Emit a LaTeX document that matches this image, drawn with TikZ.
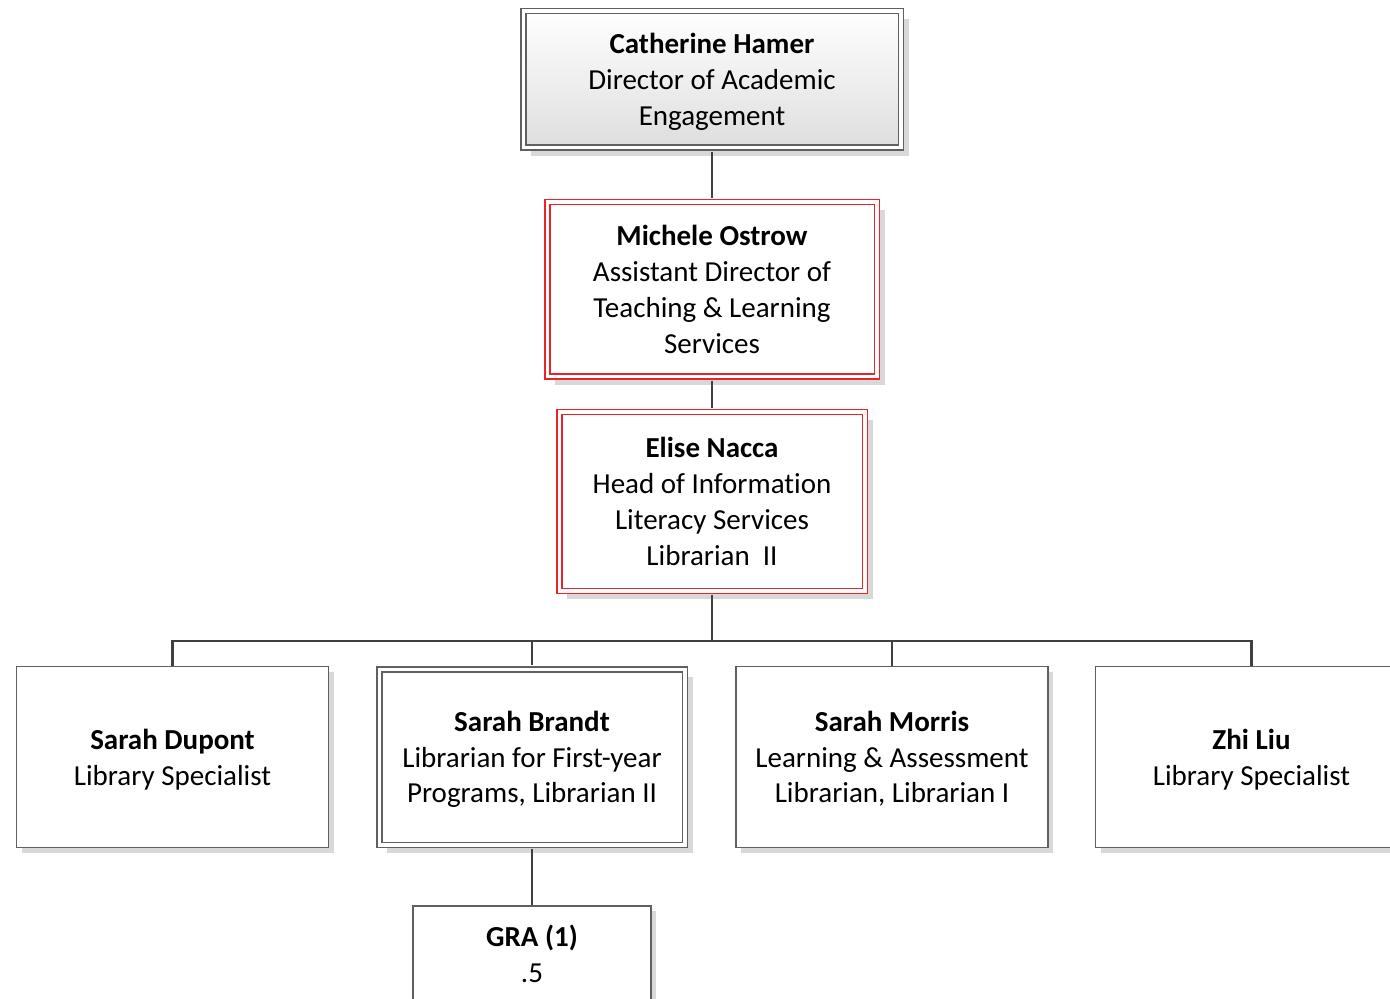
\documentclass[tikz,border=0pt]{standalone}
\usepackage{fontspec}
\setmainfont{Carlito}[Ligatures=NoCommon]
\usetikzlibrary{positioning, shadows}
\definecolor{boxgray}{RGB}{96,96,96}
\definecolor{boxred}{RGB}{232,36,40}
\definecolor{linkgray}{RGB}{64,64,64}
\definecolor{shadowgray}{RGB}{216,216,216}
\tikzset {
    person/.style={rectangle, draw=boxgray, line width=0.75pt, fill=white,
        align=center, inner sep=0pt, text depth=0pt,
        font=\fontsize{14.5}{17.9}\selectfont,
        drop shadow={shadow xshift=#1, shadow yshift=-#1, fill=shadowgray, opacity=1}},
    person/.default=2.5pt,
    staff/.style={person, minimum width=156pt, minimum height=90.5pt},
    twoline/.style={person=4pt, double=white, double distance=1.75pt},
    head/.style={twoline, draw=boxred}
}

\begin{document}
\begin{tikzpicture}[
  x=0.5pt, y=-0.5pt,
  link/.style={draw=linkgray, line width=1.3pt},
  off/.style={shorten <=1.6pt},
  on/.style={shorten >=1.6pt}
  ]
\useasboundingbox (0,0) rectangle (1390,999);

\node[twoline, top color=white, bottom color=black!13,
      minimum width=188.75pt, minimum height=68.25pt] (cat) at (712,79.5)
  {\textbf{Catherine Hamer}\\Director of Academic\\Engagement};
\node[head, minimum width=164.75pt, minimum height=87.25pt] (mic) at (712,289.5)
  {\textbf{Michele Ostrow}\\Assistant Director of\\Teaching \& Learning\\Services};
\node[head, minimum width=152.75pt, minimum height=89.25pt] (eli) at (712,501.5)
  {\textbf{Elise Nacca}\\Head of Information\\Literacy Services\\Librarian\ \ II};

\node[staff] (dup) at (172.5,757) {\textbf{Sarah Dupont}\\Library Specialist};
\node[twoline, minimum width=152.75pt, minimum height=87.75pt] (bra) at (532,757)
  {\textbf{Sarah Brandt}\\Librarian for First-year\\Programs, Librarian II};
\node[staff] (mor) at (892,757)
  {\textbf{Sarah Morris}\\Learning \& Assessment\\Librarian, Librarian I};
\node[staff] (zhi) at (1251.5,757) {\textbf{Zhi Liu}\\Library Specialist};

\node[person, minimum width=119pt, minimum height=47.5pt] (gra) at (532,953.5)
  {\textbf{GRA (1)}\\.5};

\coordinate (bus) at (712,641);

\draw[link, off, on] (cat) -- (mic);
\draw[link, off, on] (mic) -- (eli);
\draw[link, off] (eli) -- (bus);
\draw[link] (bus) -| (dup);
\draw[link, on] (bus) -| (bra);
\draw[link] (bus) -| (mor);
\draw[link] (bus) -| (zhi);
\draw[link, off] (bra) -- (gra);

\end{tikzpicture}
\end{document}
